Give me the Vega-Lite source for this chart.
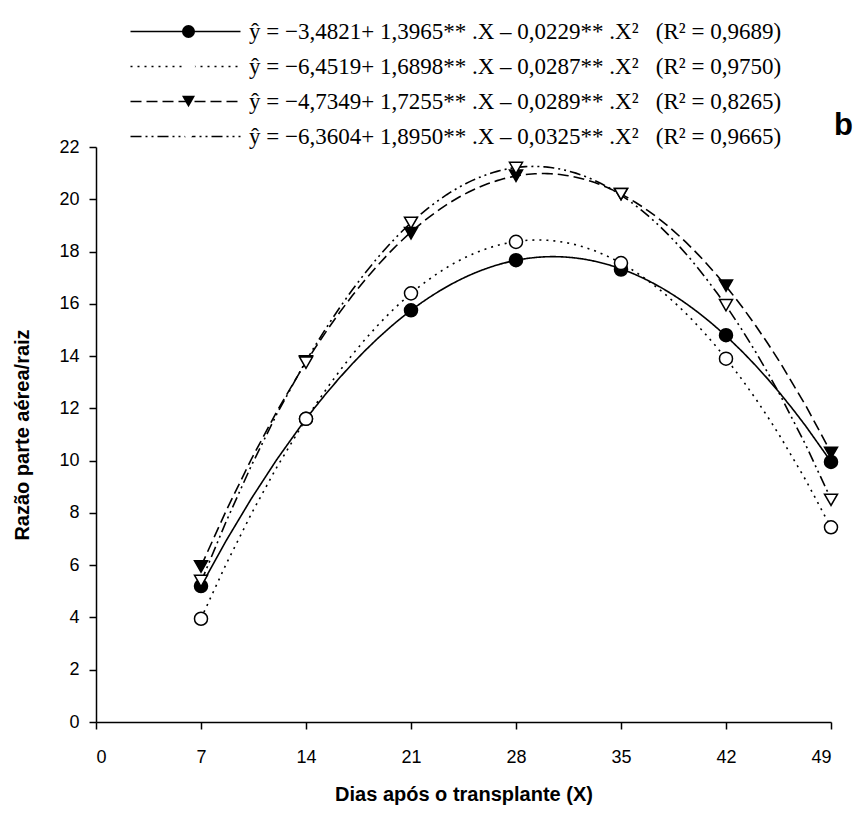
{
  "$schema": "https://vega.github.io/schema/vega-lite/v6.json",
  "width": 735,
  "height": 575,
  "autosize": {"type": "none"},
  "padding": {"left": 96, "top": 147, "right": 25, "bottom": 97},
  "background": "white",
  "title": {"text": "b", "anchor": "end", "frame": "group", "orient": "top", "font": "Liberation Sans", "fontSize": 31, "fontWeight": "bold", "color": "black", "baseline": "alphabetic", "offset": 0, "dx": 22, "dy": 146},
  "data": {"values": [
    {"dias": 7, "razao": 5.2, "serie": "A"},
    {"dias": 14, "razao": 11.6, "serie": "A"},
    {"dias": 21, "razao": 15.75, "serie": "A"},
    {"dias": 28, "razao": 17.67, "serie": "A"},
    {"dias": 35, "razao": 17.31, "serie": "A"},
    {"dias": 42, "razao": 14.8, "serie": "A"},
    {"dias": 49, "razao": 9.95, "serie": "A"},
    {"dias": 7, "razao": 3.95, "serie": "B"},
    {"dias": 14, "razao": 11.6, "serie": "B"},
    {"dias": 21, "razao": 16.4, "serie": "B"},
    {"dias": 28, "razao": 18.37, "serie": "B"},
    {"dias": 35, "razao": 17.56, "serie": "B"},
    {"dias": 42, "razao": 13.9, "serie": "B"},
    {"dias": 49, "razao": 7.45, "serie": "B"},
    {"dias": 7, "razao": 5.95, "serie": "C"},
    {"dias": 14, "razao": 13.8, "serie": "C"},
    {"dias": 21, "razao": 18.7, "serie": "C"},
    {"dias": 28, "razao": 20.9, "serie": "C"},
    {"dias": 35, "razao": 20.2, "serie": "C"},
    {"dias": 42, "razao": 16.7, "serie": "C"},
    {"dias": 49, "razao": 10.3, "serie": "C"},
    {"dias": 7, "razao": 5.4, "serie": "D"},
    {"dias": 14, "razao": 13.75, "serie": "D"},
    {"dias": 21, "razao": 19.1, "serie": "D"},
    {"dias": 28, "razao": 21.2, "serie": "D"},
    {"dias": 35, "razao": 20.2, "serie": "D"},
    {"dias": 42, "razao": 15.95, "serie": "D"},
    {"dias": 49, "razao": 8.5, "serie": "D"}
  ]},
  "encoding": {
    "x": {"field": "dias", "type": "quantitative", "title": "Dias após o transplante (X)",
      "scale": {"domain": [0, 49], "nice": false, "zero": false},
      "axis": {"values": [0, 7, 14, 21, 28, 35, 42, 49], "titlePadding": 18, "labelPadding": 19}},
    "y": {"field": "razao", "type": "quantitative", "title": "Razão parte aérea/raiz",
      "scale": {"domain": [0, 22], "nice": false},
      "axis": {"values": [0, 2, 4, 6, 8, 10, 12, 14, 16, 18, 20, 22], "titlePadding": 26, "labelPadding": 10}}
  },
  "layer": [
    {
      "transform": [{"regression": "razao", "on": "dias", "groupby": ["serie"], "method": "poly", "order": 2, "extent": [7, 49]}],
      "mark": {"type": "line", "color": "black", "strokeWidth": 1.6},
      "encoding": {
        "strokeDash": {"field": "serie", "type": "nominal",
          "scale": {"range": [[1, 0], [2, 5], [11, 5], [11, 4, 2, 4, 2, 4]]},
          "legend": {"orient": "none", "legendX": 78, "legendY": -127, "title": null, "padding": 0,
            "symbolType": "M-55,0H55", "symbolSize": 4, "symbolStrokeWidth": 1.6, "symbolStrokeColor": "black", "symbolFillColor": "transparent",
            "labelFont": "Liberation Serif", "labelFontSize": 23, "labelOffset": 60, "rowPadding": 11, "labelLimit": 800,
            "labelExpr": "'\u00a0'"}}
      }
    },
    {
      "mark": {"type": "point", "filled": true, "size": 170, "stroke": "black", "strokeWidth": 1.5, "opacity": 1},
      "encoding": {
        "shape": {"field": "serie", "type": "nominal",
          "scale": {"range": ["circle", "circle", "triangle-down", "triangle-down"]},
          "legend": {"orient": "none", "legendX": 81, "legendY": -127, "title": null, "padding": 0,
            "symbolSize": 170, "symbolStrokeWidth": 1.5, "symbolStrokeColor": "black",
            "labelFont": "Liberation Serif", "labelFontSize": 23, "labelColor": "black", "labelOffset": 49, "rowPadding": 11, "labelLimit": 800,
            "labelExpr": "datum.label == 'A' ? 'ŷ = −3,4821+ 1,3965** .X – 0,0229** .X²\u00a0\u00a0\u00a0(R² = 0,9689)' : datum.label == 'B' ? 'ŷ = −6,4519+ 1,6898** .X – 0,0287** .X²\u00a0\u00a0\u00a0(R² = 0,9750)' : datum.label == 'C' ? 'ŷ = −4,7349+ 1,7255** .X – 0,0289** .X²\u00a0\u00a0\u00a0(R² = 0,8265)' : 'ŷ = −6,3604+ 1,8950** .X – 0,0325** .X²\u00a0\u00a0\u00a0(R² = 0,9665)'"}},
        "fill": {"field": "serie", "type": "nominal",
          "scale": {"range": ["black", "white", "black", "white"]},
          "legend": {"orient": "none", "legendX": 81, "legendY": -127, "title": null, "padding": 0,
            "symbolSize": 170, "symbolStrokeWidth": 1.5, "symbolStrokeColor": "black",
            "labelFont": "Liberation Serif", "labelFontSize": 23, "labelColor": "black", "labelOffset": 49, "rowPadding": 11, "labelLimit": 800,
            "labelExpr": "datum.label == 'A' ? 'ŷ = −3,4821+ 1,3965** .X – 0,0229** .X²\u00a0\u00a0\u00a0(R² = 0,9689)' : datum.label == 'B' ? 'ŷ = −6,4519+ 1,6898** .X – 0,0287** .X²\u00a0\u00a0\u00a0(R² = 0,9750)' : datum.label == 'C' ? 'ŷ = −4,7349+ 1,7255** .X – 0,0289** .X²\u00a0\u00a0\u00a0(R² = 0,8265)' : 'ŷ = −6,3604+ 1,8950** .X – 0,0325** .X²\u00a0\u00a0\u00a0(R² = 0,9665)'"}}
      }
    }
  ],
  "config": {
    "view": {"stroke": null},
    "axis": {"domainColor": "black", "domainWidth": 1.5, "tickColor": "black", "tickWidth": 1.5, "tickSize": 7, "grid": false,
      "labelFont": "Liberation Sans", "labelFontSize": 18, "labelColor": "black",
      "titleFont": "Liberation Sans", "titleFontSize": 20, "titleFontWeight": "bold", "titleColor": "black"},
    "legend": {"labelColor": "black"}
  }
}
